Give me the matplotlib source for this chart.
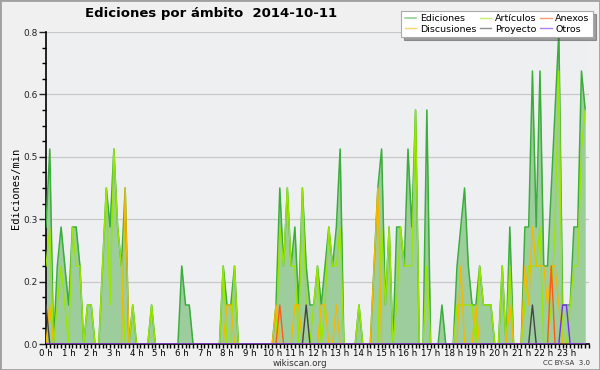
import matplotlib
matplotlib.use("Agg")
import matplotlib.pyplot as plt
from matplotlib.ticker import MultipleLocator, FormatStrFormatter, FixedLocator
from matplotlib.patches import Rectangle

# ---- datos: ediciones/min por tramo de 10 minutos (una fila = una hora) ----
ediciones = [
    0.3, 0.5, 0.0, 0.2, 0.3, 0.2,
    0.1, 0.3, 0.3, 0.2, 0.0, 0.1,
    0.1, 0.0, 0.0, 0.2, 0.4, 0.3,
    0.5, 0.3, 0.2, 0.4, 0.0, 0.1,
    0.0, 0.0, 0.0, 0.0, 0.1, 0.0,
    0.0, 0.0, 0.0, 0.0, 0.0, 0.0,
    0.2, 0.1, 0.1, 0.0, 0.0, 0.0,
    0.0, 0.0, 0.0, 0.0, 0.0, 0.2,
    0.1, 0.1, 0.2, 0.0, 0.0, 0.0,
    0.0, 0.0, 0.0, 0.0, 0.0, 0.0,
    0.0, 0.1, 0.4, 0.2, 0.4, 0.2,
    0.3, 0.1, 0.4, 0.2, 0.1, 0.1,
    0.2, 0.1, 0.2, 0.3, 0.2, 0.3,
    0.5, 0.0, 0.0, 0.0, 0.0, 0.1,
    0.0, 0.0, 0.0, 0.2, 0.4, 0.5,
    0.1, 0.3, 0.0, 0.3, 0.3, 0.2,
    0.5, 0.3, 0.6, 0.0, 0.0, 0.6,
    0.0, 0.0, 0.0, 0.1, 0.0, 0.0,
    0.0, 0.2, 0.3, 0.4, 0.2, 0.1,
    0.1, 0.2, 0.1, 0.1, 0.1, 0.0,
    0.0, 0.2, 0.0, 0.3, 0.0, 0.0,
    0.0, 0.3, 0.3, 0.7, 0.3, 0.7,
    0.2, 0.2, 0.4, 0.6, 0.8, 0.1,
    0.1, 0.1, 0.3, 0.3, 0.7, 0.6,
]
articulos = [
    0.2, 0.3, 0.0, 0.1, 0.2, 0.1,
    0.0, 0.3, 0.2, 0.2, 0.0, 0.1,
    0.1, 0.0, 0.0, 0.2, 0.4, 0.1,
    0.5, 0.3, 0.2, 0.0, 0.0, 0.1,
    0.0, 0.0, 0.0, 0.0, 0.1, 0.0,
    0.0, 0.0, 0.0, 0.0, 0.0, 0.0,
    0.0, 0.0, 0.0, 0.0, 0.0, 0.0,
    0.0, 0.0, 0.0, 0.0, 0.0, 0.2,
    0.0, 0.0, 0.2, 0.0, 0.0, 0.0,
    0.0, 0.0, 0.0, 0.0, 0.0, 0.0,
    0.0, 0.0, 0.3, 0.2, 0.4, 0.2,
    0.2, 0.0, 0.4, 0.1, 0.0, 0.1,
    0.2, 0.0, 0.1, 0.3, 0.2, 0.2,
    0.3, 0.0, 0.0, 0.0, 0.0, 0.1,
    0.0, 0.0, 0.0, 0.0, 0.0, 0.3,
    0.1, 0.3, 0.0, 0.1, 0.3, 0.2,
    0.2, 0.2, 0.6, 0.0, 0.0, 0.2,
    0.0, 0.0, 0.0, 0.0, 0.0, 0.0,
    0.0, 0.1, 0.1, 0.1, 0.1, 0.1,
    0.0, 0.2, 0.1, 0.1, 0.1, 0.0,
    0.0, 0.2, 0.0, 0.2, 0.0, 0.0,
    0.0, 0.1, 0.2, 0.2, 0.2, 0.3,
    0.0, 0.0, 0.1, 0.3, 0.7, 0.0,
    0.0, 0.1, 0.2, 0.2, 0.5, 0.6,
]
discusiones = [
    0.0, 0.1, 0.0, 0.0, 0.0, 0.0,
    0.0, 0.0, 0.0, 0.0, 0.0, 0.0,
    0.0, 0.0, 0.0, 0.0, 0.0, 0.0,
    0.0, 0.0, 0.0, 0.4, 0.0, 0.0,
    0.0, 0.0, 0.0, 0.0, 0.0, 0.0,
    0.0, 0.0, 0.0, 0.0, 0.0, 0.0,
    0.0, 0.0, 0.0, 0.0, 0.0, 0.0,
    0.0, 0.0, 0.0, 0.0, 0.0, 0.0,
    0.1, 0.1, 0.0, 0.0, 0.0, 0.0,
    0.0, 0.0, 0.0, 0.0, 0.0, 0.0,
    0.0, 0.1, 0.0, 0.0, 0.0, 0.0,
    0.1, 0.1, 0.0, 0.0, 0.0, 0.0,
    0.0, 0.1, 0.1, 0.0, 0.0, 0.1,
    0.0, 0.0, 0.0, 0.0, 0.0, 0.0,
    0.0, 0.0, 0.0, 0.2, 0.4, 0.0,
    0.0, 0.0, 0.0, 0.0, 0.0, 0.0,
    0.0, 0.0, 0.0, 0.0, 0.0, 0.0,
    0.0, 0.0, 0.0, 0.0, 0.0, 0.0,
    0.0, 0.0, 0.2, 0.0, 0.0, 0.0,
    0.1, 0.0, 0.0, 0.0, 0.0, 0.0,
    0.0, 0.0, 0.0, 0.1, 0.0, 0.0,
    0.0, 0.2, 0.1, 0.3, 0.2, 0.2,
    0.2, 0.1, 0.2, 0.2, 0.1, 0.0,
    0.0, 0.0, 0.0, 0.0, 0.0, 0.0,
]
# series casi vacías: {tramo: valor}
proyecto_pts = {0: 0.1, 69: 0.1, 129: 0.1}
anexos_pts = {62: 0.1, 134: 0.2}
otros_pts = {137: 0.1, 138: 0.1}

horas = [f"{h} h" for h in range(24)]
y_ticks = [0.0, 0.16, 0.32, 0.48, 0.64, 0.8]

n = len(ediciones)
x = [i / 6 for i in range(n)]
proyecto = [proyecto_pts.get(i, 0.0) for i in range(n)]
anexos = [anexos_pts.get(i, 0.0) for i in range(n)]
otros = [otros_pts.get(i, 0.0) for i in range(n)]

plt.rcParams['font.family'] = ['DejaVu Sans']

fig = plt.figure(figsize=(6, 3.7), dpi=100, facecolor="#f0f0f0")
ax = fig.add_axes([46 / 600, 26 / 370, 543 / 600, 312 / 370])
ax.set_facecolor("#eeeff1")

# relleno + líneas
ax.fill_between(x, ediciones, 0, color="#9dcd9d", lw=0, zorder=2)
ax.plot(x, ediciones, color="#3aad3a", lw=1.1, zorder=3, label="Ediciones")
ax.plot(x, articulos, color="#99e600", lw=1.0, zorder=4, label="Artículos")
ax.plot(x, discusiones, color="#f5b800", lw=1.0, zorder=5, label="Discusiones")
ax.plot(x, anexos, color="#ff5a1a", lw=1.0, zorder=6, label="Anexos")
ax.plot(x, proyecto, color="#444444", lw=1.0, zorder=6, label="Proyecto")
ax.plot(x, otros, color="#7a2cf0", lw=1.0, zorder=6, label="Otros")

ax.set_xlim(0, 24)
ax.set_ylim(0, 0.8)
ax.yaxis.set_major_locator(FixedLocator(y_ticks))
ax.yaxis.set_minor_locator(MultipleLocator(0.04))
ax.yaxis.set_major_formatter(FormatStrFormatter("%.1f"))
ax.set_xticks(range(24))
ax.set_xticklabels(horas)
ax.xaxis.set_minor_locator(MultipleLocator(1 / 6))

ax.grid(axis="y", which="major", color="#c8c8c8", lw=0.9, zorder=1)
for s in ("top", "right"):
    ax.spines[s].set_visible(False)
ax.spines["left"].set_linewidth(1.2)
ax.spines["bottom"].set_linewidth(1.2)
ax.tick_params(axis="y", which="major", length=5, width=1, labelsize=6.5, pad=1, colors="#222222")
ax.tick_params(axis="y", which="minor", length=3, width=1)
ax.tick_params(axis="x", which="both", length=3, width=1, labelsize=6.2, pad=0.5)

ax.set_ylabel("Ediciones/min", family="DejaVu Sans Mono", fontsize=7.5, labelpad=2)

fig.text(85 / 600, 1 - 14 / 370, "Ediciones por ámbito  2014-10-11",
         fontsize=9.5, fontweight="bold", ha="left", va="center")
fig.text(300 / 600, 1 - 363 / 370, "wikiscan.org", fontsize=6.3, ha="center", va="center", color="#333333")
fig.text(590 / 600, 1 - 363 / 370, "CC BY-SA  3.0", fontsize=5, ha="right", va="center", color="#333333")

# leyenda (orden por columnas)
h, l = ax.get_legend_handles_labels()
orden = [0, 2, 1, 4, 3, 5]
leg = fig.legend([h[i] for i in orden], [l[i] for i in orden], ncol=3,
                 loc="upper right", bbox_to_anchor=(593 / 600, 1 - 11 / 370),
                 fontsize=6.8, frameon=True, fancybox=False, shadow=True,
                 handlelength=1.2, handletextpad=0.4, columnspacing=0.4,
                 labelspacing=0.15, borderpad=0.35, borderaxespad=0)
leg.get_frame().set_edgecolor("#aaaaaa")
leg.get_frame().set_linewidth(0.8)
for line in leg.get_lines():
    line.set_alpha(0.6)

fig.patches.append(Rectangle((0, 0), 1, 1, transform=fig.transFigure, fill=False,
                             edgecolor="#a0a0a0", lw=2))

fig.savefig("out.png", dpi=100, facecolor=fig.get_facecolor())
